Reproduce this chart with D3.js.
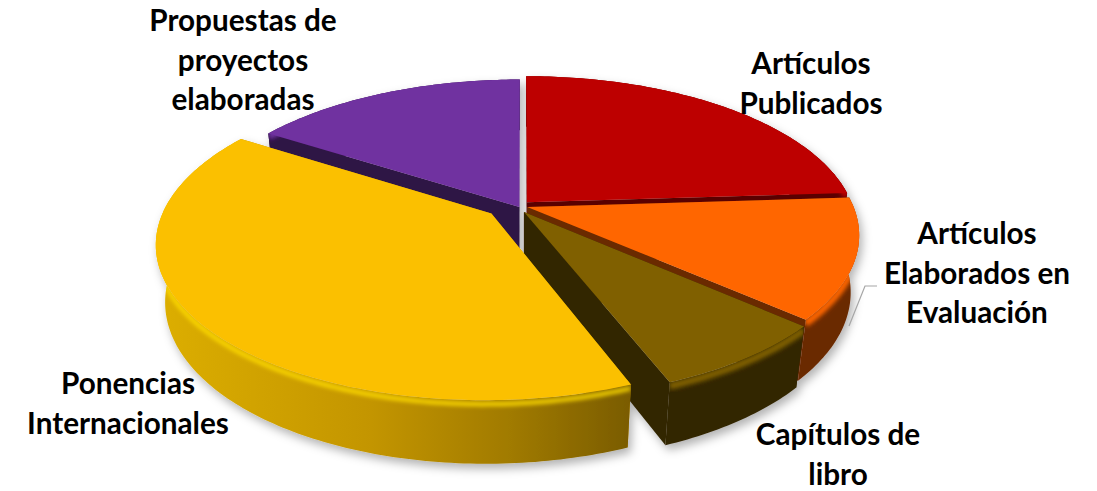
<!DOCTYPE html>
<html>
<head>
<meta charset="utf-8">
<script src="https://cdn.jsdelivr.net/npm/d3@7"></script>
<style>
  html, body { margin: 0; background: #fff; }
  svg { display: block; }
  text { font-family: Lato, "Open Sans", sans-serif; font-weight: 700; font-size: 29.7px; fill: #000; text-anchor: middle; }
</style>
</head>
<body>
<svg width="1097" height="491"></svg>
<script>
// values, in % of the total
const categories = ["Artículos Publicados", "Artículos Elaborados en Evaluación", "Capítulos de libro", "Ponencias Internacionales", "Propuestas de proyectos elaboradas"];
const values = [24, 12.5, 7.5, 40, 16];
const labelLines = [["Artículos", "Publicados"], ["Artículos", "Elaborados en", "Evaluación"], ["Capítulos de", "libro"], ["Ponencias", "Internacionales"], ["Propuestas de", "proyectos", "elaboradas"]];

// styling and layout, per slice
const topColors = ["#bd0000", "#ff6600", "#806000", "#fbc000", "#7030a0"];
const wallColors = ["#5a0000", "#6b2a00", "#332600", "#c09000", "#2e1444"];
const rimColors = ["#bd0000", "#ff6600", "#806000", "#ffdc00", "#7030a0"];
// how far each slice is pulled out of the pie, on the disc
const offsetU = [0.015, 0.016, 0.006, -0.093, -0.008];
const offsetV = [-0.025, 0.006, 0.04, 0.05, 0.006];
const labelPos = [[811, 74], [977, 244], [838, 445], [128, 394], [243, 31]];
const lineGap = 39.5;

const svg = d3.select("svg");

// perspective model: disc (u, v) with v towards the viewer, z is depth of the pie
const k = 0.18, m = 0.025;
const x = d3.scaleLinear([-1, 1], [522 - 326, 522 + 326]);
const y = d3.scaleLinear([-1, 1], [206 - 150, 206 + 150]);
const h = d3.scaleLinear([0, 1], [0, 58]);

const pie = d3.pie().sort(null).value(d => d);
const arcs = pie(values);
const line = d3.line();

function project(i, theta, r, z) {
    const u = offsetU[i] + r * Math.sin(theta);
    const v = offsetV[i] - r * Math.cos(theta);
    const w = 1 - k * v + m * z;
    return [x(u / w), y(v / w) + h(z) / w];
}

// points on the outer edge of a slice at depth z
function rim(d, i, z) {
    const n = Math.ceil((d.endAngle - d.startAngle) * 60);
    return d3.range(n + 1).map(j => project(i, d.startAngle + (d.endAngle - d.startAngle) * j / n, 1, z));
}

const defs = svg.append("defs");
defs.append("filter").attr("id", "shadow")
    .attr("x", "-10%").attr("y", "-10%").attr("width", "120%").attr("height", "130%")
    .append("feDropShadow")
    .attr("dx", 3).attr("dy", 5).attr("stdDeviation", 5)
    .attr("flood-color", "#000").attr("flood-opacity", 0.3);
defs.append("filter").attr("id", "soft").append("feGaussianBlur").attr("stdDeviation", 2);

// the yellow wall darkens from left to right
const wallGrad = defs.append("linearGradient").attr("id", "wallYellow")
    .attr("gradientUnits", "userSpaceOnUse")
    .attr("x1", 160).attr("x2", 630).attr("y1", 0).attr("y2", 0);
wallGrad.selectAll("stop")
    .data([[0, "#dcae00"], [0.45, "#c39500"], [0.75, "#a07a00"], [1, "#7a5c00"]])
    .join("stop")
    .attr("offset", d => d[0])
    .attr("stop-color", d => d[1]);

const pieG = svg.append("g").attr("filter", "url(#shadow)");

// painter's order: back slices first, the big exploded one last
[4, 0, 1, 2, 3].forEach(i => {
    const d = arcs[i];
    const g = pieG.append("g");
    const top = rim(d, i, 0), bottom = rim(d, i, 1);
    const fillWall = i === 3 ? "url(#wallYellow)" : wallColors[i];
    const wallPath = line(top.concat(bottom.slice().reverse())) + "Z";

    // radial cut faces
    [0, top.length - 1].forEach(e => {
        g.append("path")
            .attr("d", line([project(i, 0, 0, 0), top[e], bottom[e], project(i, 0, 0, 1)]) + "Z")
            .attr("fill", wallColors[i]);
    });
    // outer wall
    g.append("path")
        .attr("d", wallPath)
        .attr("fill", fillWall);
    // soft bevel along the front of the rim, kept inside the wall
    defs.append("clipPath").attr("id", "wall" + i).append("path").attr("d", wallPath);
    g.append("g")
        .attr("clip-path", `url(#wall${i})`)
        .append("path")
        .attr("d", line(rim(d, i, 0.06)))
        .attr("fill", "none")
        .attr("stroke", rimColors[i])
        .attr("stroke-width", i === 3 ? 4 : 7)
        .attr("filter", "url(#soft)");
    // top face
    g.append("path")
        .attr("d", line([project(i, 0, 0, 0)].concat(top)) + "Z")
        .attr("fill", topColors[i]);
});

// leader line of the second label
svg.append("path")
    .attr("d", line([[849, 326], [865, 286], [877, 286]]))
    .attr("fill", "none")
    .attr("stroke", "#a6a6a6")
    .attr("stroke-width", 1.2);

svg.append("g").selectAll("text")
    .data(categories)
    .join("text")
    .attr("aria-label", d => d)
    .attr("x", (d, i) => labelPos[i][0])
    .attr("y", (d, i) => labelPos[i][1])
    .selectAll("tspan")
    .data((d, i) => labelLines[i].map(t => ({ t, i })))
    .join("tspan")
    .attr("x", d => labelPos[d.i][0])
    .attr("dy", (d, j) => j ? lineGap : 0)
    .text(d => d.t);
</script>
</body>
</html>
